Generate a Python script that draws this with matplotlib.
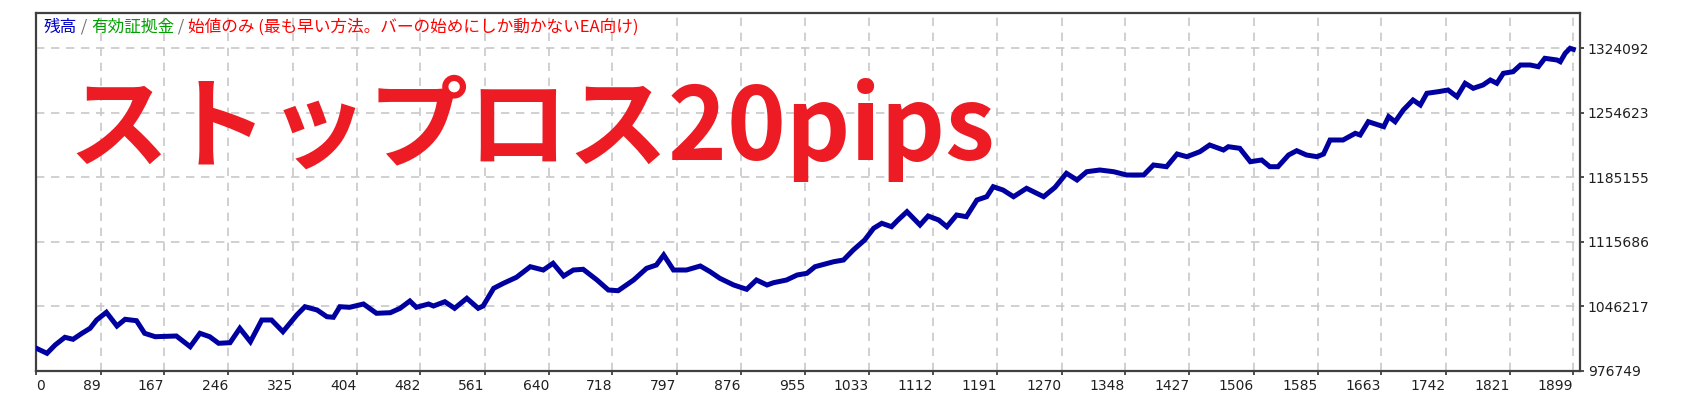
import matplotlib
matplotlib.use("Agg")
import matplotlib.pyplot as plt

# balance curve (bar number, balance)
bars = [10, 23, 33, 45, 55, 66, 76, 84, 96, 109, 119, 133, 143, 156, 182, 199, 211, 223, 234, 248,
        260, 273, 287, 299, 313, 330, 340, 355, 367, 375, 383, 395, 412, 428, 445, 457, 469, 477, 492,
        498, 512, 524, 539, 553, 559, 572, 584, 600, 617, 633, 645, 658, 670, 682, 699, 713, 725, 744,
        760, 772, 781, 793, 809, 826, 838, 850, 867, 883, 895, 908, 916, 932, 945, 957, 967,
        990, 1002, 1014, 1028, 1039, 1049, 1061, 1069, 1080, 1096, 1106, 1119, 1129, 1141, 1153, 1166,
        1178, 1186, 1198, 1211, 1227, 1248, 1262, 1276, 1289, 1301, 1317, 1334, 1350, 1371, 1383, 1399,
        1412, 1424, 1440, 1452,
        1469, 1475, 1489, 1502, 1516, 1526, 1536, 1549, 1559, 1571, 1584, 1592, 1600, 1616, 1631, 1637,
        1647, 1666, 1672, 1680, 1690, 1702, 1711, 1719, 1733, 1745, 1756, 1766, 1776, 1788, 1797, 1805,
        1813, 1825, 1834, 1846, 1856, 1864, 1879, 1883, 1889, 1895, 1899]
balance = [1001160, 995784, 1004709, 1012990, 1010839, 1017292, 1022669, 1031594, 1039875, 1025142,
           1032347, 1030842, 1017292, 1013635, 1014388, 1002881, 1017292, 1013635, 1006538, 1007183,
           1022669, 1008258, 1031594, 1031594, 1019012, 1036971, 1045897, 1042348, 1035143, 1034498,
           1045897, 1045252, 1048801, 1038800, 1039445, 1044177, 1052027, 1045252, 1048801,
           1046650, 1051274, 1044177, 1054931, 1044177, 1046650, 1065685, 1071062, 1077514, 1088913,
           1085354, 1092570, 1078912, 1085354, 1086117, 1074610, 1063856, 1063104, 1074610, 1087193,
           1090741, 1101495, 1085354, 1085354, 1089666, 1083536, 1076439, 1069233, 1064609, 1074610,
           1069233, 1071707, 1074610, 1079987, 1081816, 1088913,
           1094290, 1096118, 1106872, 1117626, 1130209, 1135586, 1131929, 1139134, 1148060, 1133757,
           1143436, 1139134, 1131929, 1144511, 1142683, 1160642, 1164191, 1174945, 1171396, 1164191,
           1173225, 1164191, 1174300, 1189356, 1182150, 1191076, 1192904, 1191076, 1187527, 1187527,
           1198281, 1196453, 1210111, 1207207, 1212584, 1219789,
           1214412, 1217961, 1216241, 1201830, 1203658, 1196453, 1196453, 1209035, 1213660, 1209035,
           1207207, 1210111, 1225166, 1225166, 1232372, 1230543, 1244846, 1239469, 1250223, 1244846,
           1257428, 1268182, 1262805, 1275388, 1277111, 1278936, 1271731, 1286142, 1280765, 1284313,
           1289690, 1286142, 1296896, 1298616, 1305821, 1305821, 1303993, 1313027, 1311198, 1309370,
           1318404, 1323781, 1322706]

x_labels = ["0", "89", "167", "246", "325", "404", "482", "561", "640", "718", "797", "876", "955",
            "1033", "1112", "1191", "1270", "1348", "1427", "1506", "1585", "1663", "1742", "1821", "1899"]
y_ticks = [976749, 1046217, 1115686, 1185155, 1254623, 1324092]

legend_parts = ["残高", " / ", "有効証拠金", " / ", "始値のみ (最も早い方法。バーの始めにしか動かないEA向け)"]
legend_colors = ["#0000C8", "#707070", "#00A000", "#707070", "#FF0000"]
big_title = "ストップロス20pips"

W, H = 1693, 407
fig = plt.figure(figsize=(W / 100, H / 100), dpi=100, facecolor="white")
ax = fig.add_axes([36 / W, 1 - 371 / H, (1579.5 - 36) / W, (371 - 13) / H])

x_left, x_right = 9.5, 1906.6
ax.plot(bars, balance, color="#0000A0", lw=3.6, solid_joinstyle="miter", zorder=3)
ax.set_xlim(x_left, x_right)
ax.set_ylim(976749, 1361742)

xpos = [x_left] + [int(s) for s in x_labels[1:]]
ax.set_xticks(xpos)
ax.set_xticklabels(x_labels, fontsize=10, color="#202020")
for i, lab in enumerate(ax.get_xticklabels()):
    lab.set_ha("left" if i == 0 else "right")

ax.yaxis.tick_right()
ax.set_yticks(y_ticks)
ax.set_yticklabels([str(v) for v in y_ticks], fontsize=10, color="#202020")
ax.tick_params(axis="x", direction="out", length=3, width=1.2, pad=3, color="#303030")
ax.tick_params(axis="y", direction="out", length=3, width=1.2, pad=3, color="#303030")

ax.grid(True, linestyle=(0, (5, 4)), color="#C8C8C8", lw=1.2, zorder=0)
for sp in ax.spines.values():
    sp.set_color("#404040")
    sp.set_linewidth(1.6)

# big red caption
fig.text(68 / W, 1 - 128 / H, big_title, color="#ED1C24", fontsize=72, fontweight="bold",
         ha="left", va="center", family=["Noto Sans CJK JP", "DejaVu Sans"])

# coloured legend line at the top
renderer = fig.canvas.get_renderer()
x = 44
for s, c in zip(legend_parts, legend_colors):
    t = fig.text(x / W, 1 - 27 / H, s, color=c, fontsize=12, ha="left", va="center",
                 family=["Noto Sans CJK JP", "DejaVu Sans"])
    bb = t.get_window_extent(renderer)
    x += bb.width

fig.savefig("out.png", dpi=100, facecolor="white")
